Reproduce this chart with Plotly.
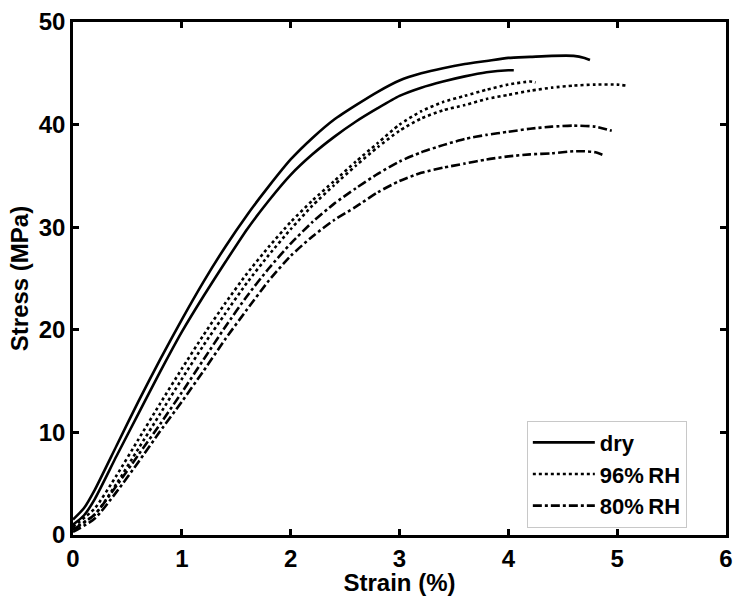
import plotly.graph_objects as go

# Stress-strain curves, two specimens per conditioning state
dry_a_strain = [0, 0.1, 0.2, 0.4, 0.6, 0.8, 1.0, 1.2, 1.4, 1.6, 1.8, 2.0, 2.2, 2.4, 2.6, 2.8, 3.0,
                3.2, 3.4, 3.6, 3.8, 4.0, 4.2, 4.4, 4.6, 4.7, 4.75]
dry_a_stress = [1.5, 2.6, 4.4, 8.7, 13.0, 17.1, 21.0, 24.7, 28.1, 31.2, 34.0, 36.6, 38.7, 40.5, 41.9,
                43.2, 44.3, 45.0, 45.5, 45.9, 46.2, 46.5, 46.6, 46.7, 46.7, 46.5, 46.3]

dry_b_strain = [0, 0.1, 0.2, 0.4, 0.6, 0.8, 1.0, 1.2, 1.4, 1.6, 1.8, 2.0, 2.2, 2.4, 2.6, 2.8, 3.0,
                3.2, 3.4, 3.6, 3.8, 4.0, 4.05]
dry_b_stress = [1.0, 1.9, 3.5, 7.7, 11.8, 15.9, 19.8, 23.3, 26.6, 29.8, 32.6, 35.1, 37.1, 38.8, 40.3,
                41.6, 42.8, 43.6, 44.2, 44.7, 45.1, 45.3, 45.3]

rh96_a_strain = [0, 0.2, 0.4, 0.6, 0.8, 1.0, 1.2, 1.4, 1.6, 1.8, 2.0, 2.2, 2.4, 2.6, 2.8, 3.0, 3.2,
                 3.4, 3.6, 3.8, 4.0, 4.2, 4.25]
rh96_a_stress = [0.8, 2.6, 5.8, 9.3, 12.8, 16.2, 19.5, 22.6, 25.5, 28.1, 30.5, 32.6, 34.5, 36.4, 38.2,
                 40.0, 41.3, 42.2, 42.8, 43.4, 43.9, 44.2, 44.1]

rh96_b_strain = [0, 0.2, 0.4, 0.6, 0.8, 1.0, 1.2, 1.4, 1.6, 1.8, 2.0, 2.2, 2.4, 2.6, 2.8, 3.0, 3.2,
                 3.4, 3.6, 3.8, 4.0, 4.2, 4.4, 4.6, 4.8, 5.0, 5.08]
rh96_b_stress = [0.6, 2.0, 5.0, 8.4, 11.8, 15.2, 18.5, 21.6, 24.6, 27.3, 29.8, 32.1, 34.1, 36.0, 37.8,
                 39.4, 40.6, 41.4, 41.9, 42.5, 42.9, 43.3, 43.6, 43.8, 43.9, 43.9, 43.8]

rh80_a_strain = [0, 0.2, 0.4, 0.6, 0.8, 1.0, 1.2, 1.4, 1.6, 1.8, 2.0, 2.2, 2.4, 2.6, 2.8, 3.0, 3.2,
                 3.4, 3.6, 3.8, 4.0, 4.2, 4.4, 4.6, 4.8, 4.95]
rh80_a_stress = [0.5, 2.0, 4.8, 7.8, 10.8, 13.9, 17.1, 20.3, 23.3, 26.0, 28.4, 30.5, 32.3, 33.8, 35.2,
                 36.4, 37.3, 38.0, 38.6, 39.0, 39.3, 39.6, 39.8, 39.9, 39.8, 39.4]

rh80_b_strain = [0, 0.2, 0.4, 0.6, 0.8, 1.0, 1.2, 1.4, 1.6, 1.8, 2.0, 2.2, 2.4, 2.6, 2.8, 3.0, 3.2,
                 3.4, 3.6, 3.8, 4.0, 4.2, 4.4, 4.6, 4.7, 4.8, 4.88]
rh80_b_stress = [0.3, 1.6, 4.2, 7.1, 10.1, 13.0, 16.0, 19.1, 22.0, 24.8, 27.2, 29.1, 30.7, 32.0, 33.4,
                 34.5, 35.3, 35.8, 36.2, 36.6, 36.9, 37.1, 37.2, 37.4, 37.4, 37.3, 37.0]

x_ticks = [0, 1, 2, 3, 4, 5, 6]
y_ticks = [0, 10, 20, 30, 40, 50]

FONT = "Liberation Sans, Arial, sans-serif"
FS = 24
LW = 2.6
SOLID = "solid"
DOTTED = "3px,3px"
DASHDOT = "9px,3px,3px,3px"

series = [
    ("dry", dry_a_strain, dry_a_stress, SOLID, True),
    ("dry", dry_b_strain, dry_b_stress, SOLID, False),
    ("96%\u2009RH", rh96_a_strain, rh96_a_stress, DOTTED, True),
    ("96%\u2009RH", rh96_b_strain, rh96_b_stress, DOTTED, False),
    ("80%\u2009RH", rh80_a_strain, rh80_a_stress, DASHDOT, True),
    ("80%\u2009RH", rh80_b_strain, rh80_b_stress, DASHDOT, False),
]

fig = go.Figure()
for name, xs, ys, dash, show in series:
    fig.add_trace(go.Scatter(
        x=xs, y=ys, mode="lines", name=name, showlegend=show, legendgroup=name,
        line=dict(color="black", width=LW, dash=dash, shape="spline", smoothing=0.6),
    ))

axis_common = dict(
    showgrid=False, zeroline=False, showline=True, linecolor="black", linewidth=2.5,
    mirror="ticks", ticks="inside", ticklen=6, tickwidth=2.5, tickcolor="black",
    tickfont=dict(family=FONT, size=FS, color="black", weight="bold"),
)

fig.update_layout(
    width=741, height=596,
    margin=dict(l=73, r=8, t=18, b=59),
    paper_bgcolor="white", plot_bgcolor="white",
    font=dict(family=FONT, color="black"),
    xaxis=dict(range=[0, 6], tickvals=x_ticks, **axis_common,
               title=dict(text="<b>Strain (%)</b>", font=dict(family=FONT, size=FS), standoff=0)),
    yaxis=dict(range=[0, 50], tickvals=y_ticks, **axis_common,
               title=dict(text="<b>Stress (MPa)</b>", font=dict(family=FONT, size=FS), standoff=4)),
    legend=dict(
        x=0.695, y=0.223, xanchor="left", yanchor="top",
        bgcolor="white", bordercolor="#c8c8c8", borderwidth=1,
        font=dict(family=FONT, size=22, color="black", weight="bold"),
        tracegroupgap=0, itemwidth=62,
    ),
)

fig.write_html("out.html")
